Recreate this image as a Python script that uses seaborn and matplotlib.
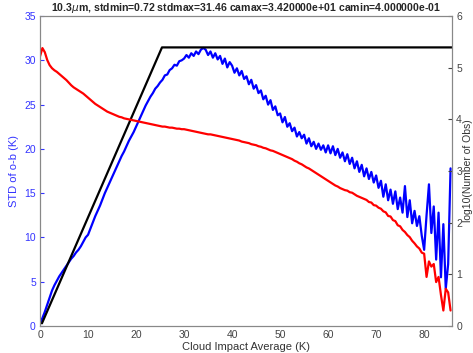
import numpy as np
import pandas as pd
import matplotlib
matplotlib.use("Agg")
import matplotlib.pyplot as plt
import seaborn as sns

# Cloud impact bins (K), step 0.5
cloud_impact = np.arange(0, 86, 0.5)

# STD of o-b (K) per bin
std_ob = [
    0.3, 0.9, 1.6, 2.4, 3.2, 4.0, 4.6, 5.1, 5.6, 6.0, 6.4, 6.8, 7.2, 7.6, 7.9, 8.3, 8.6, 9.0, 9.5, 10.0,
    10.3, 11.0, 11.7, 12.4, 13.0, 13.6, 14.3, 15.0, 15.6, 16.2, 16.8, 17.4, 18.0, 18.6, 19.2, 19.7, 20.3, 20.9, 21.4, 21.9,
    22.5, 23.1, 23.7, 24.3, 24.9, 25.4, 25.9, 26.3, 26.8, 27.1, 27.5, 27.8, 28.3, 28.4, 28.9, 29.1, 29.5, 29.4, 29.9, 30.0,
    30.2, 30.6, 30.3, 30.8, 30.5, 31.0, 30.7, 31.2, 31.4, 31.2, 30.6, 31.0, 30.3, 30.8, 30.1, 30.5, 29.6, 30.2, 29.2, 29.8,
    29.4, 28.6, 29.1, 28.3, 28.8, 27.9, 28.2, 27.3, 27.8, 26.8, 27.2, 26.3, 26.6, 25.6, 26.0, 25.0, 25.5, 24.4, 24.8, 23.8,
    24.0, 23.0, 23.6, 22.5, 22.9, 22.0, 22.4, 21.4, 21.9, 21.2, 21.6, 20.6, 21.2, 20.3, 20.8, 20.0, 20.6, 19.9, 20.4, 19.6,
    20.4, 19.5, 20.3, 19.3, 20.0, 19.0, 19.6, 18.6, 19.4, 18.3, 19.0, 17.8, 18.6, 17.4, 18.2, 16.9, 17.8, 16.6, 17.4, 16.2,
    17.0, 15.6, 16.4, 14.6, 16.0, 14.2, 15.4, 13.8, 15.2, 13.2, 14.5, 12.8, 15.8, 12.3, 14.2, 11.6, 13.0, 11.3, 12.4, 10.2,
    8.6, 12.5, 16.0, 10.5, 13.5, 7.5, 12.8, 5.5, 11.5, 4.2, 7.0, 17.8,
]

# log10(Number of Obs) per bin
log_nobs = [
    5.22, 5.38, 5.30, 5.15, 5.05, 4.99, 4.95, 4.92, 4.88, 4.84, 4.80, 4.76, 4.71, 4.66, 4.62, 4.59, 4.56, 4.53, 4.50, 4.46,
    4.42, 4.38, 4.34, 4.30, 4.27, 4.24, 4.21, 4.18, 4.15, 4.13, 4.11, 4.09, 4.07, 4.05, 4.04, 4.02, 4.01, 4.00, 3.99, 3.98,
    3.97, 3.96, 3.95, 3.94, 3.93, 3.92, 3.91, 3.90, 3.89, 3.88, 3.87, 3.86, 3.86, 3.85, 3.84, 3.84, 3.83, 3.82, 3.82, 3.81,
    3.81, 3.80, 3.79, 3.78, 3.77, 3.76, 3.75, 3.74, 3.73, 3.72, 3.71, 3.71, 3.70, 3.69, 3.68, 3.67, 3.66, 3.65, 3.64, 3.63,
    3.62, 3.61, 3.60, 3.59, 3.57, 3.56, 3.55, 3.54, 3.52, 3.51, 3.50, 3.48, 3.47, 3.45, 3.44, 3.42, 3.40, 3.39, 3.37, 3.35,
    3.33, 3.31, 3.29, 3.27, 3.25, 3.23, 3.20, 3.18, 3.15, 3.13, 3.10, 3.07, 3.05, 3.02, 2.99, 2.96, 2.93, 2.90, 2.87, 2.84,
    2.81, 2.78, 2.75, 2.72, 2.70, 2.67, 2.65, 2.63, 2.62, 2.59, 2.58, 2.55, 2.52, 2.50, 2.48, 2.46, 2.44, 2.40, 2.39, 2.34,
    2.33, 2.29, 2.27, 2.22, 2.20, 2.13, 2.12, 2.05, 2.03, 1.95, 1.93, 1.86, 1.82, 1.76, 1.72, 1.65, 1.60, 1.54, 1.50, 1.42,
    1.40, 0.95, 1.25, 1.15, 1.20, 0.85, 0.95, 0.60, 0.30, 0.72, 0.65, 0.30,
]

# stdmax envelope
env_x = [0.4, 25.4, 85.8]
env_y = [0.3, 31.46, 31.46]

df = pd.DataFrame({"ca": cloud_impact, "std": std_ob, "nobs": log_nobs})
env = pd.DataFrame({"ca": env_x, "std": env_y})

sns.set_style("white")
plt.rcParams["font.family"] = ["Liberation Sans", "DejaVu Sans"]

fig = plt.figure(figsize=(4.73, 3.53), dpi=100)
ax1 = fig.add_axes([0.0846, 0.0765, 0.871, 0.878])
ax2 = ax1.twinx()

sns.lineplot(data=df, x="ca", y="std", ax=ax1, color="blue", lw=1.6)
sns.lineplot(data=env, x="ca", y="std", ax=ax1, color="black", lw=1.6)
sns.lineplot(data=df, x="ca", y="nobs", ax=ax2, color="red", lw=1.6)

ax1.set_xlim(0, 85.8)
ax1.set_ylim(0, 35)
ax2.set_ylim(0, 6)
ax1.set_xticks(range(0, 81, 10))
ax1.set_yticks(range(0, 36, 5))
ax2.set_yticks(range(0, 7))

ax1.set_xlabel("Cloud Impact Average (K)", fontsize=8, color="#333333", labelpad=1)
ax1.set_ylabel("STD of o-b (K)", fontsize=8, color="#3333ff", labelpad=4)
ax2.set_ylabel("log10(Number of Obs)", fontsize=7.5, color="#333333", labelpad=1)
ax1.set_title("10.3$\\mu$m, stdmin=0.72 stdmax=31.46 camax=3.420000e+01 camin=4.000000e-01",
              fontsize=7.6, fontweight="bold", pad=4)

ax1.tick_params(axis="y", direction="in", length=3, labelsize=7.5, colors="#3333ff", pad=3)
ax1.tick_params(axis="x", direction="in", length=3, labelsize=7.5, colors="#444444", pad=3)
ax2.tick_params(axis="y", direction="in", length=3, labelsize=7.5, colors="#444444", pad=3)
for a in (ax1, ax2):
    for s in a.spines.values():
        s.set_color("#888888")
        s.set_linewidth(0.8)

fig.savefig("out.png", dpi=100)
